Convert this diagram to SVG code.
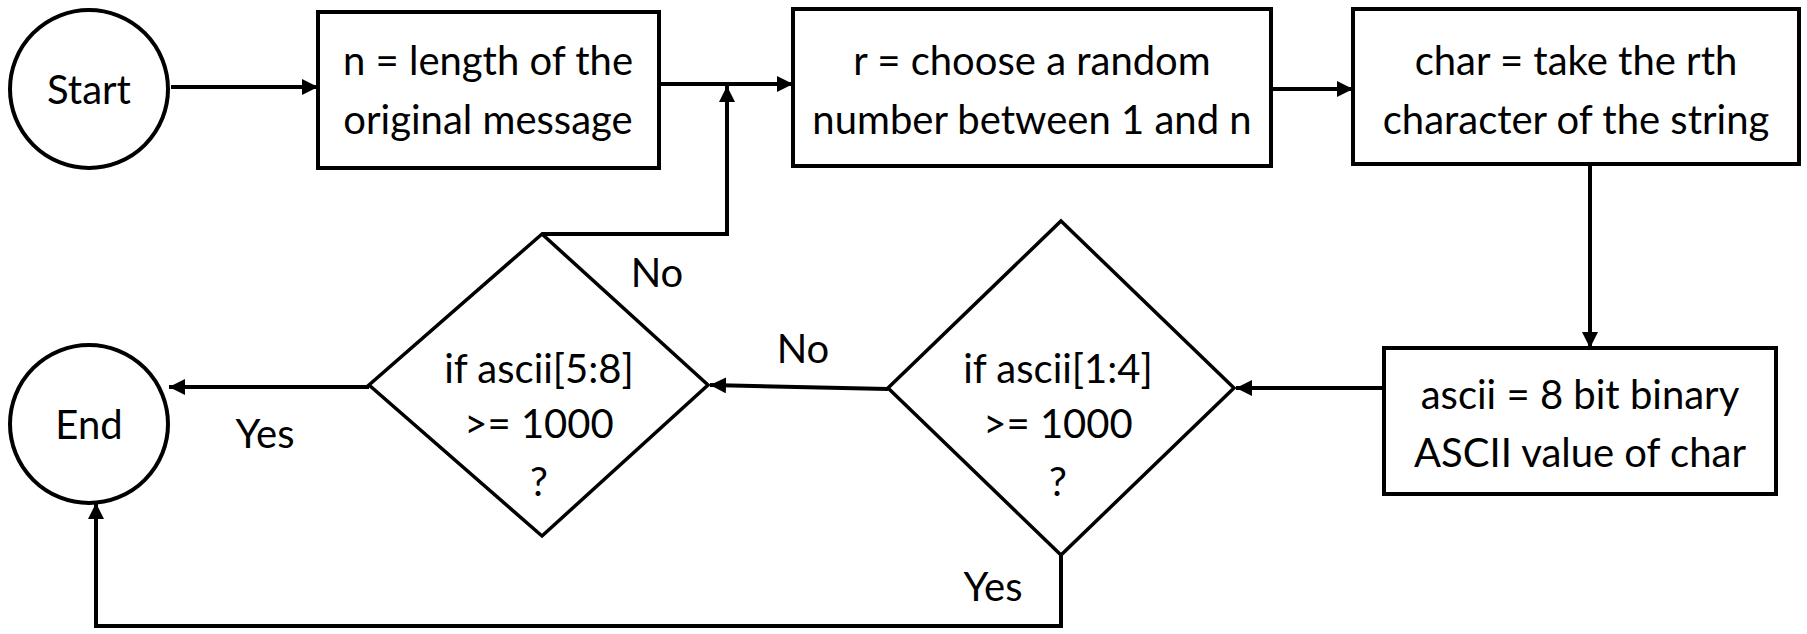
<svg xmlns="http://www.w3.org/2000/svg" width="1807" height="634" viewBox="0 0 1807 634">
<style>
.shape{fill:#fff;stroke:#000;stroke-width:4}
.dia{fill:#fff;stroke:#000;stroke-width:3.5}
.conn{fill:none;stroke:#000;stroke-width:4}
text{font-family:Lato,"Open Sans","Liberation Sans",sans-serif;font-size:40px;fill:#000;text-anchor:middle}
</style>
<defs>
<marker id="ah" viewBox="0 0 10 10" refX="10" refY="5" markerWidth="4" markerHeight="4" markerUnits="strokeWidth" orient="auto">
<path d="M0,0 L10,5 L0,10 Z" fill="#000"/>
</marker>
</defs>
<rect width="1807" height="634" fill="#fff"/>
<g id="connectors">
<line class="conn" x1="171" y1="87" x2="318" y2="87" marker-end="url(#ah)"/>
<line class="conn" x1="659" y1="84" x2="793" y2="84" marker-end="url(#ah)"/>
<polyline class="conn" points="542,234 727,234 727,86" marker-end="url(#ah)"/>
<line class="conn" x1="1271" y1="89" x2="1353" y2="89" marker-end="url(#ah)"/>
<line class="conn" x1="1590" y1="164" x2="1590" y2="348" marker-end="url(#ah)"/>
<line class="conn" x1="1384" y1="388" x2="1236" y2="388" marker-end="url(#ah)"/>
<line class="conn" x1="888" y1="389" x2="710" y2="385" marker-end="url(#ah)"/>
<line class="conn" x1="369" y1="387" x2="169" y2="387" marker-end="url(#ah)"/>
<polyline class="conn" points="1061,555 1061,626 96,626 96,503" marker-end="url(#ah)"/>
</g>
<g id="start">
<circle class="shape" cx="89" cy="89" r="79"/>
<text x="89" y="104">Start</text>
</g>
<g id="box1">
<rect class="shape" x="318" y="12" width="341" height="156"/>
<text x="488" y="75">n = length of the</text>
<text x="488" y="134">original message</text>
</g>
<g id="box2">
<rect class="shape" x="793" y="9" width="478" height="157"/>
<text x="1032" y="75">r = choose a random</text>
<text x="1032" y="134">number between 1 and n</text>
</g>
<g id="box3">
<rect class="shape" x="1353" y="9" width="446" height="155"/>
<text x="1576" y="75">char = take the rth</text>
<text x="1576" y="134">character of the string</text>
</g>
<g id="box4">
<rect class="shape" x="1384" y="348" width="392" height="146"/>
<text x="1580" y="409">ascii = 8 bit binary</text>
<text x="1580" y="467">ASCII value of char</text>
</g>
<g id="decision1">
<polygon class="dia" points="1061,221 1234,388 1061,555 888,388"/>
<text x="1058" y="383">if ascii[1:4]</text>
<text x="1058" y="438">&gt;= 1000</text>
<text x="1058" y="496">?</text>
</g>
<g id="decision2">
<polygon class="dia" points="542,234 708,385 542,536 369,385"/>
<text x="539" y="383">if ascii[5:8]</text>
<text x="539" y="438">&gt;= 1000</text>
<text x="539" y="496">?</text>
</g>
<g id="end">
<circle class="shape" cx="89" cy="424" r="79"/>
<text x="89" y="439">End</text>
</g>
<g id="labels">
<text x="657" y="287">No</text>
<text x="803" y="363">No</text>
<text x="265" y="448">Yes</text>
<text x="993" y="601">Yes</text>
</g>
</svg>
